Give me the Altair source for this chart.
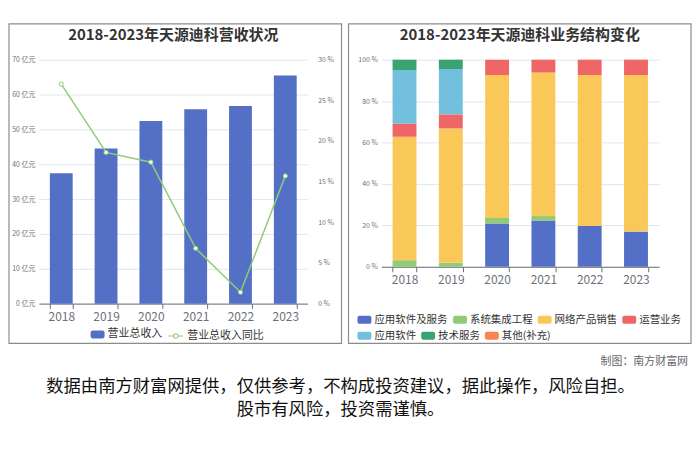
import altair as alt
import pandas as pd

FONT = "Noto Sans CJK SC"

# ---------------- data ----------------
years = ["2018", "2019", "2020", "2021", "2022", "2023"]
revenue = [37.4, 44.5, 52.4, 55.8, 56.7, 65.5]          # 营业总收入 (亿元)
revenue_yoy = [27.0, 18.6, 17.4, 6.8, 1.4, 15.7]        # 营业总收入同比 (%)

segments = ["应用软件及服务", "系统集成工程", "网络产品销售", "运营业务",
            "应用软件", "技术服务", "其他(补充)"]
segment_colors = ["#5470c6", "#91cc75", "#fac858", "#ee6666",
                  "#73c0de", "#3ba272", "#fc8452"]
share_app_service = [0.0, 0.0, 20.9, 22.3, 19.7, 17.0]
share_system_integration = [3.2, 1.9, 2.7, 2.2, 0.0, 0.0]
share_network_products = [59.6, 64.9, 69.0, 69.3, 72.9, 75.6]
share_operations = [6.4, 6.8, 7.4, 6.2, 7.4, 7.4]
share_app_software = [25.8, 21.9, 0.0, 0.0, 0.0, 0.0]
share_tech_services = [5.0, 4.5, 0.0, 0.0, 0.0, 0.0]
share_other = [0.0, 0.0, 0.0, 0.0, 0.0, 0.0]

left_title = "2018-2023年天源迪科营收状况"
right_title = "2018-2023年天源迪科业务结构变化"
bar_series = "营业总收入"
line_series = "营业总收入同比"
credit = "制图：南方财富网"
disclaimer_1 = "数据由南方财富网提供，仅供参考，不构成投资建议，据此操作，风险自担。"
disclaimer_2 = "股市有风险，投资需谨慎。"

# ---------------- tables ----------------
rev_df = pd.DataFrame({"year": years, "revenue": revenue, "yoy": revenue_yoy})
rev_df["s_bar"] = bar_series
rev_df["s_line"] = line_series

share_lists = [share_app_service, share_system_integration, share_network_products,
               share_operations, share_app_software, share_tech_services, share_other]
rows = []
for k, (name, vals) in enumerate(zip(segments, share_lists)):
    for yr, v in zip(years, vals):
        rows.append({"year": yr, "segment": name, "share": v, "order": k})
seg_df = pd.DataFrame(rows)

one = alt.Data(values=[{"k": 1}])

RRECT = ("M-0.7,-0.57H0.7A0.3,0.3 0 0 1 1,-0.27V0.27A0.3,0.3 0 0 1 0.7,0.57"
         "H-0.7A0.3,0.3 0 0 1 -1,0.27V-0.27A0.3,0.3 0 0 1 -0.7,-0.57Z")
LINE_SYM = ("M-1,0H-0.3M0.3,0H1M0.3,0A0.3,0.3 0 1 1 -0.3,0A0.3,0.3 0 1 1 0.3,0Z")

AX_GRAY = "#6e7079"
GRID = "#e0e6f1"

# ---------------- left panel ----------------
LW, LH = 270, 245
x_left = alt.X("year:N", sort=years,
               scale=alt.Scale(paddingInner=0.49, paddingOuter=0.245),
               axis=alt.Axis(title=None, labelAngle=0, labelFontSize=12,
                             labelColor=AX_GRAY, domainColor=AX_GRAY,
                             tickColor=AX_GRAY, tickBand="extent", tickSize=5,
                             labelPadding=3, grid=False))

bars = alt.Chart(rev_df).mark_bar().encode(
    x=x_left,
    y=alt.Y("revenue:Q", scale=alt.Scale(domain=[0, 70]),
            axis=alt.Axis(title=None, values=[0, 10, 20, 30, 40, 50, 60, 70],
                          labelExpr="datum.value + ' 亿元'", labelFontSize=7,
                          labelColor=AX_GRAY, domain=False, ticks=False,
                          gridColor=GRID, labelPadding=4)),
    color=alt.Color("s_bar:N", scale=alt.Scale(domain=[bar_series], range=["#5470c6"]),
                    legend=alt.Legend(orient="none", legendX=52, legendY=269,
                                      title=None, symbolType=RRECT, symbolSize=196,
                                      symbolStrokeWidth=0, labelFontSize=11,
                                      labelColor="#333", padding=0, labelOffset=3)),
)

line = alt.Chart(rev_df).mark_line(
    strokeWidth=1.5,
    point=alt.OverlayMarkDef(shape="circle", filled=True, fill="white",
                             strokeWidth=1, size=18),
).encode(
    x=x_left,
    y=alt.Y("yoy:Q", scale=alt.Scale(domain=[0, 30]),
            axis=alt.Axis(orient="right", title=None, values=[0, 5, 10, 15, 20, 25, 30],
                          labelExpr="datum.value + ' %'", labelFontSize=7,
                          labelColor=AX_GRAY, domain=False, ticks=False,
                          grid=False, labelPadding=10)),
    stroke=alt.Stroke("s_line:N", scale=alt.Scale(domain=[line_series], range=["#91cc75"]),
                      legend=alt.Legend(orient="none", legendX=129, legendY=269,
                                        title=None, symbolType=LINE_SYM, symbolSize=225,
                                        symbolStrokeWidth=1.2, symbolFillColor="white",
                                        labelFontSize=11, labelColor="#333",
                                        padding=0, labelOffset=3)),
)

frame_left = alt.Chart(one).mark_rect(fill="white", fillOpacity=0, stroke="#8c8c8c",
                                      strokeWidth=1.2).encode(
    x=alt.value(-30), x2=alt.value(304), y=alt.value(-36), y2=alt.value(285))
title_left = alt.Chart(one).mark_text(text=left_title, fontSize=15, fontWeight="bold",
                                      color="#333", align="center", baseline="middle").encode(
    x=alt.value(135), y=alt.value(-25))

left = alt.layer(bars, line, frame_left, title_left).resolve_scale(
    y="independent").properties(width=LW, height=LH)

# ---------------- right panel ----------------
RW, RH = 279, 208
x_right = alt.X("year:N", sort=years,
                scale=alt.Scale(paddingInner=0.484, paddingOuter=0.242),
                axis=alt.Axis(title=None, labelAngle=0, labelFontSize=12,
                              labelColor=AX_GRAY, domainColor=AX_GRAY,
                              tickColor=AX_GRAY, tickBand="extent", tickSize=5,
                              labelPadding=3, grid=False))
y_right = alt.Y("v0:Q", scale=alt.Scale(domain=[0, 100]),
                axis=alt.Axis(title=None, values=[0, 20, 40, 60, 80, 100],
                              labelExpr="datum.value + ' %'", labelFontSize=7,
                              labelColor=AX_GRAY, domain=False, ticks=False,
                              gridColor=GRID, labelPadding=4))

stacked = alt.Chart(seg_df).transform_stack(
    stack="share", groupby=["year"], as_=["v0", "v1"],
    sort=[alt.SortField("order", order="ascending")])

legend_common = dict(orient="none", direction="horizontal", title=None,
                     symbolType=RRECT, symbolSize=196, symbolStrokeWidth=0,
                     labelFontSize=10.5, labelColor="#333", padding=0,
                     labelOffset=3, columnPadding=5, labelLimit=100)

seg_a = stacked.transform_filter("datum.order < 4").mark_bar().encode(
    x=x_right, y=y_right, y2="v1:Q",
    color=alt.Color("segment:N", sort=segments[:4],
                    scale=alt.Scale(domain=segments[:4], range=segment_colors[:4]),
                    legend=alt.Legend(legendX=-24, legendY=254, **legend_common)),
)
seg_b = stacked.transform_filter("datum.order >= 4").mark_bar().encode(
    x=x_right, y=y_right, y2="v1:Q",
    fill=alt.Fill("segment:N", sort=segments[4:],
                  scale=alt.Scale(domain=segments[4:], range=segment_colors[4:]),
                  legend=alt.Legend(legendX=-24, legendY=270, **legend_common)),
)

frame_right = alt.Chart(one).mark_rect(fill="white", fillOpacity=0, stroke="#8c8c8c",
                                       strokeWidth=1.2).encode(
    x=alt.value(-33), x2=alt.value(311), y=alt.value(-36), y2=alt.value(285))
title_right = alt.Chart(one).mark_text(text=right_title, fontSize=15, fontWeight="bold",
                                       color="#333", align="center", baseline="middle").encode(
    x=alt.value(139), y=alt.value(-25))

right = alt.layer(seg_a, seg_b, frame_right, title_right).properties(width=RW, height=RH)

# ---------------- footer (origin aligns with the left plot area) ----------------
credit_text = alt.Chart(one).mark_text(text=credit, fontSize=11, color="#666",
                                       align="right", baseline="middle").encode(
    x=alt.value(652), y=alt.value(18))
disc1 = alt.Chart(one).mark_text(text=disclaimer_1, fontSize=17.4, color="#111",
                                 align="center", baseline="middle").encode(
    x=alt.value(303), y=alt.value(43))
disc2 = alt.Chart(one).mark_text(text=disclaimer_2, fontSize=17.4, color="#111",
                                 align="center", baseline="middle").encode(
    x=alt.value(303), y=alt.value(66))
footer = alt.layer(credit_text, disc1, disc2).properties(width=600, height=84)

top = alt.hconcat(left, right, spacing=5).resolve_scale(
    color="independent", fill="independent", stroke="independent"
).resolve_legend(color="independent", fill="independent", stroke="independent")

chart = alt.vconcat(top, footer, spacing=0).resolve_scale(
    color="independent", fill="independent", stroke="independent"
).properties(
    padding={"left": 0, "top": 14, "right": 0, "bottom": 0},
    background="white",
).configure(font=FONT).configure_view(stroke=None)

chart.save("out.html", embed_options={"renderer": "svg", "actions": False})
